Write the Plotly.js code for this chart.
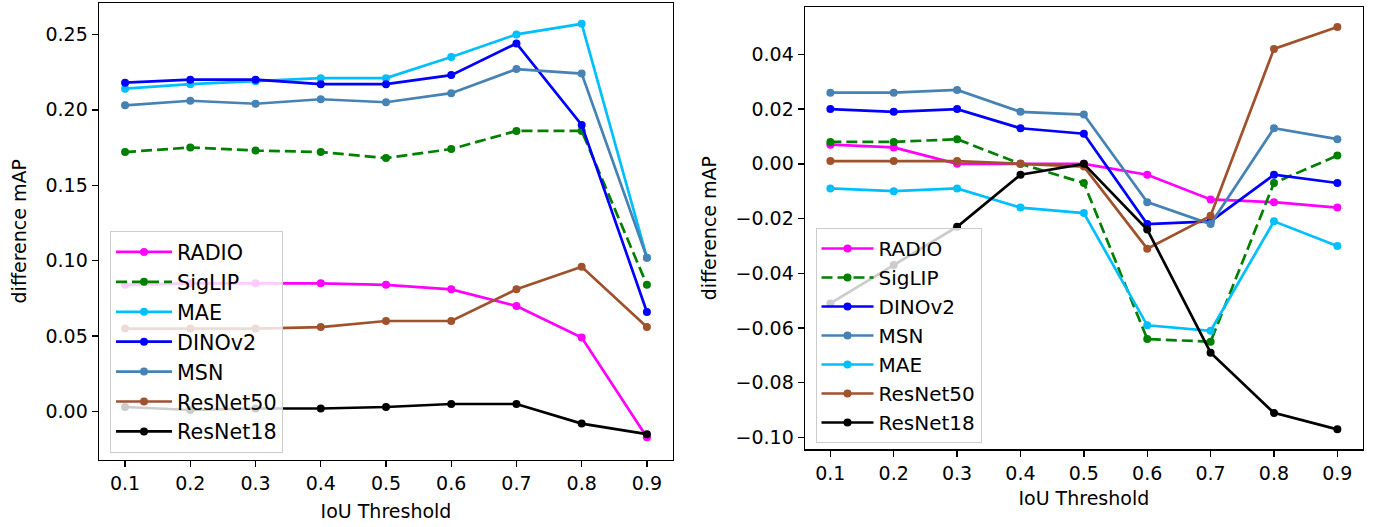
<!DOCTYPE html>
<html>
<head>
<meta charset="utf-8">
<script src="https://cdn.plot.ly/plotly-3.0.1.min.js"></script>
<style>html,body{margin:0;padding:0;background:#fff;}#chart{width:1375px;height:527px;}</style>
</head>
<body>
<div id="chart"></div>
<script>
// IoU thresholds (shared x values)
const iou = [0.1, 0.2, 0.3, 0.4, 0.5, 0.6, 0.7, 0.8, 0.9];

// Left panel series (difference mAP)
const leftRADIO    = [0.084, 0.085, 0.085, 0.085, 0.084, 0.081, 0.070, 0.049, -0.017];
const leftSigLIP   = [0.172, 0.175, 0.173, 0.172, 0.168, 0.174, 0.186, 0.186, 0.084];
const leftMAE      = [0.214, 0.217, 0.219, 0.221, 0.221, 0.235, 0.250, 0.257, 0.102];
const leftDINOv2   = [0.218, 0.220, 0.220, 0.217, 0.217, 0.223, 0.244, 0.190, 0.066];
const leftMSN      = [0.203, 0.206, 0.204, 0.207, 0.205, 0.211, 0.227, 0.224, 0.102];
const leftResNet50 = [0.055, 0.055, 0.055, 0.056, 0.060, 0.060, 0.081, 0.096, 0.056];
const leftResNet18 = [0.003, 0.001, 0.002, 0.002, 0.003, 0.005, 0.005, -0.008, -0.015];

// Right panel series (difference mAP)
const rightRADIO    = [0.007, 0.006, 0.000, 0.000, 0.000, -0.004, -0.013, -0.014, -0.016];
const rightSigLIP   = [0.008, 0.008, 0.009, 0.000, -0.007, -0.064, -0.065, -0.007, 0.003];
const rightDINOv2   = [0.020, 0.019, 0.020, 0.013, 0.011, -0.022, -0.021, -0.004, -0.007];
const rightMSN      = [0.026, 0.026, 0.027, 0.019, 0.018, -0.014, -0.022, 0.013, 0.009];
const rightMAE      = [-0.009, -0.010, -0.009, -0.016, -0.018, -0.059, -0.061, -0.021, -0.030];
const rightResNet50 = [0.001, 0.001, 0.001, 0.000, -0.001, -0.031, -0.019, 0.042, 0.050];
const rightResNet18 = [-0.051, -0.037, -0.023, -0.004, 0.000, -0.024, -0.069, -0.091, -0.097];

const tickVals = [0.1, 0.2, 0.3, 0.4, 0.5, 0.6, 0.7, 0.8, 0.9];
const tickText = ['0.1', '0.2', '0.3', '0.4', '0.5', '0.6', '0.7', '0.8', '0.9'];

const colors = {
  RADIO: '#ff00ff', SigLIP: '#008000', MAE: '#00bfff', DINOv2: '#0000ff',
  MSN: '#4682b4', ResNet50: '#a0522d', ResNet18: '#000000'
};

function tr(name, y, xa, ya, lg, dashed) {
  return {
    x: iou, y: y, name: name, type: 'scatter', mode: 'lines+markers',
    xaxis: xa, yaxis: ya, legend: lg,
    line: {color: colors[name], width: 2.7, dash: dashed ? '11px,5px' : 'solid'},
    marker: {color: colors[name], size: 8}
  };
}

const data = [
  tr('RADIO', leftRADIO, 'x', 'y', 'legend'),
  tr('SigLIP', leftSigLIP, 'x', 'y', 'legend', true),
  tr('MAE', leftMAE, 'x', 'y', 'legend'),
  tr('DINOv2', leftDINOv2, 'x', 'y', 'legend'),
  tr('MSN', leftMSN, 'x', 'y', 'legend'),
  tr('ResNet50', leftResNet50, 'x', 'y', 'legend'),
  tr('ResNet18', leftResNet18, 'x', 'y', 'legend'),
  tr('RADIO', rightRADIO, 'x2', 'y2', 'legend2'),
  tr('SigLIP', rightSigLIP, 'x2', 'y2', 'legend2', true),
  tr('DINOv2', rightDINOv2, 'x2', 'y2', 'legend2'),
  tr('MSN', rightMSN, 'x2', 'y2', 'legend2'),
  tr('MAE', rightMAE, 'x2', 'y2', 'legend2'),
  tr('ResNet50', rightResNet50, 'x2', 'y2', 'legend2'),
  tr('ResNet18', rightResNet18, 'x2', 'y2', 'legend2')
];

const font = {family: 'DejaVu Sans, sans-serif', size: 19, color: '#000'};
const axBase = {
  showline: true, mirror: true, linecolor: '#000', linewidth: 1.4,
  ticks: 'outside', ticklen: 6, tickwidth: 1.4, tickcolor: '#000',
  showgrid: false, zeroline: false, tickfont: font
};

const W = 1375, H = 527;
const layout = {
  width: W, height: H,
  margin: {l: 0, r: 0, t: 0, b: 0},
  paper_bgcolor: '#fff', plot_bgcolor: '#fff',
  font: font,
  showlegend: true,
  xaxis: Object.assign({}, axBase, {
    domain: [99 / W, 673 / W], range: [0.06, 0.94],
    tickvals: tickVals, ticktext: tickText, anchor: 'y',
    title: {text: 'IoU Threshold', font: font, standoff: 12}
  }),
  yaxis: Object.assign({}, axBase, {
    domain: [(H - 459.5) / H, (H - 3) / H], range: [-0.0318, 0.2708],
    dtick: 0.05, tick0: 0, tickformat: '.2f', anchor: 'x',
    title: {text: 'difference mAP', font: font, standoff: 14}
  }),
  xaxis2: Object.assign({}, axBase, {
    domain: [805 / W, 1362.7 / W], range: [0.06, 0.94],
    tickvals: tickVals, ticktext: tickText, anchor: 'y2',
    title: {text: 'IoU Threshold', font: font, standoff: 9}
  }),
  yaxis2: Object.assign({}, axBase, {
    domain: [(H - 449.3) / H, (H - 7) / H], range: [-0.1043, 0.0573],
    dtick: 0.02, tick0: 0, tickformat: '.2f', anchor: 'x2',
    title: {text: 'difference mAP', font: font, standoff: 14}
  }),
  legend: {
    x: 110 / W, y: (H - 231) / H, xanchor: 'left', yanchor: 'top',
    bgcolor: 'rgba(255,255,255,0.8)', bordercolor: '#cccccc', borderwidth: 1,
    font: {family: 'DejaVu Sans, sans-serif', size: 20.7, color: '#000'},
    itemwidth: 56
  },
  legend2: {
    x: 815.5 / W, y: (H - 228) / H, xanchor: 'left', yanchor: 'top',
    bgcolor: 'rgba(255,255,255,0.8)', bordercolor: '#cccccc', borderwidth: 1,
    font: {family: 'DejaVu Sans, sans-serif', size: 20, color: '#000'},
    itemwidth: 52
  }
};

Plotly.newPlot('chart', data, layout, {displayModeBar: false, staticPlot: true});
</script>
</body>
</html>
